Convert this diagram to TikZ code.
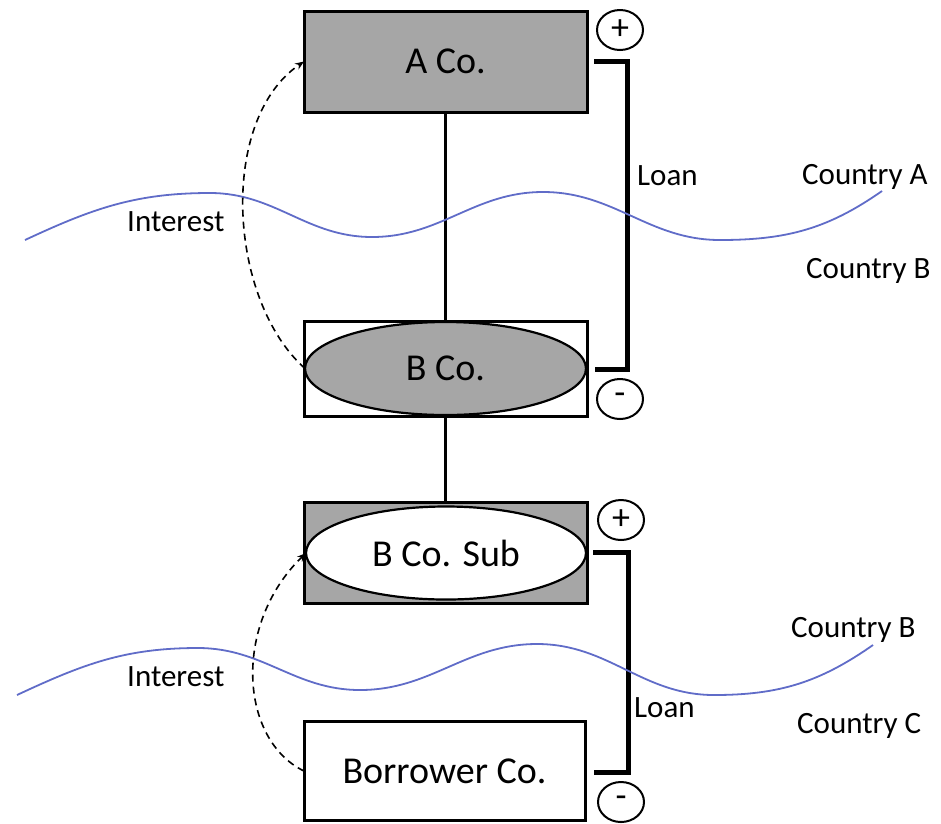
\documentclass[tikz,border=0pt]{standalone}
\usepackage{fontspec}
\setmainfont{Carlito}
\usetikzlibrary{shapes.geometric,arrows.meta,calc}
\definecolor{boxgray}{RGB}{166,166,166}
\definecolor{wave}{RGB}{96,108,200}
\begin{document}
\begin{tikzpicture}[x=1pt,y=-1pt,
  bigtxt/.style={font=\fontsize{38}{42}\selectfont},
  smalltxt/.style={font=\fontsize{31}{34}\selectfont, inner sep=0pt, anchor=base west},
  cobox/.style={draw, line width=3pt, rectangle, inner sep=0pt, outer sep=0pt},
  coell/.style={draw, line width=2.2pt, ellipse, inner sep=0pt, outer sep=0pt},
  link/.style={line width=2.5pt},
  bracket/.style={line width=5pt, line join=miter},
  sign/.style={draw, line width=2pt, ellipse, minimum width=46pt, minimum height=40pt, inner sep=0pt, font=\fontsize{36}{38}\selectfont},
  interest/.style={dashed, line width=1.6pt, dash pattern=on 7pt off 5pt, -{Stealth[length=9pt,width=7pt]}},
  border/.style={wave, line width=1.8pt}
]
\useasboundingbox (0,0) rectangle (941,823);

% boxes
\node[cobox, fill=boxgray, minimum width=283pt, minimum height=101pt, bigtxt] (aco) at (445.5,61.5) {A Co.};
\node[cobox, fill=white, minimum width=283pt, minimum height=95pt] (bcorect) at (445.5,368.5) {};
\node[coell, fill=boxgray, minimum width=281pt, minimum height=93pt, bigtxt] (bco) at (445.5,368.5) {B Co.};
\node[cobox, fill=boxgray, minimum width=283pt, minimum height=101pt] (bsubrect) at (445.5,552.5) {};
\node[coell, fill=white, minimum width=280pt, minimum height=93pt, bigtxt] (bsub) at (446,553) {B Co. Sub};
\node[cobox, fill=white, minimum width=281pt, minimum height=99pt, bigtxt] (borrow) at (444.5,771) {Borrower Co.};

% vertical links
\draw[link] (aco.south) -- (bcorect.north);
\draw[link] (bcorect.south) -- (bsubrect.north);

% signs
\node[sign] (p1) at (620,30) {+};
\node[sign] (m1) at (620,399) {-};
\node[sign] (p2) at (621,520) {+};
\node[sign] (m2) at (621,802) {-};

% loan brackets
\coordinate (l1a) at (594,61);
\coordinate (l1b) at (627,61);
\coordinate (l1c) at (627,369);
\coordinate (l1d) at (595,369);
\draw[bracket] (l1a) -- (l1b) -- (l1c) -- (l1d);
\coordinate (l2a) at (593,552);
\coordinate (l2b) at (628,552);
\coordinate (l2c) at (628,772);
\coordinate (l2d) at (594,772);
\draw[bracket] (l2a) -- (l2b) -- (l2c) -- (l2d);

% country borders
\coordinate (w1s) at (25,240);
\coordinate (w1e) at (882,191);
\draw[border] (w1s) to[out=25,in=180] (210,193) to[out=0,in=180] (372,237)
  to[out=0,in=180] (543,192) to[out=0,in=180] (720,240) to[out=0,in=215] (w1e);
\coordinate (w2s) at (17,695);
\coordinate (w2e) at (873,645);
\draw[border] (w2s) to[out=25,in=180] (198,648) to[out=0,in=180] (360,690)
  to[out=0,in=180] (537,644) to[out=0,in=180] (714,695) to[out=0,in=215] (w2e);

% interest arrows
\draw[interest] (bco.west) .. controls (228,300) and (218,120) .. (aco.west);
\draw[interest] (borrow.west) .. controls (240,740) and (232,625) .. (bsub.west);

% labels
\node[smalltxt] (loan1) at (637,185) {Loan};
\node[smalltxt] (ca) at (802,184) {Country A};
\node[smalltxt] (cb1) at (806,278) {Country B};
\node[smalltxt] (int1) at (127,231) {Interest};
\node[smalltxt] (int2) at (127,686) {Interest};
\node[smalltxt] (loan2) at (634,717) {Loan};
\node[smalltxt] (cb2) at (791,637) {Country B};
\node[smalltxt] (cc) at (797,733) {Country C};
\end{tikzpicture}
\end{document}
